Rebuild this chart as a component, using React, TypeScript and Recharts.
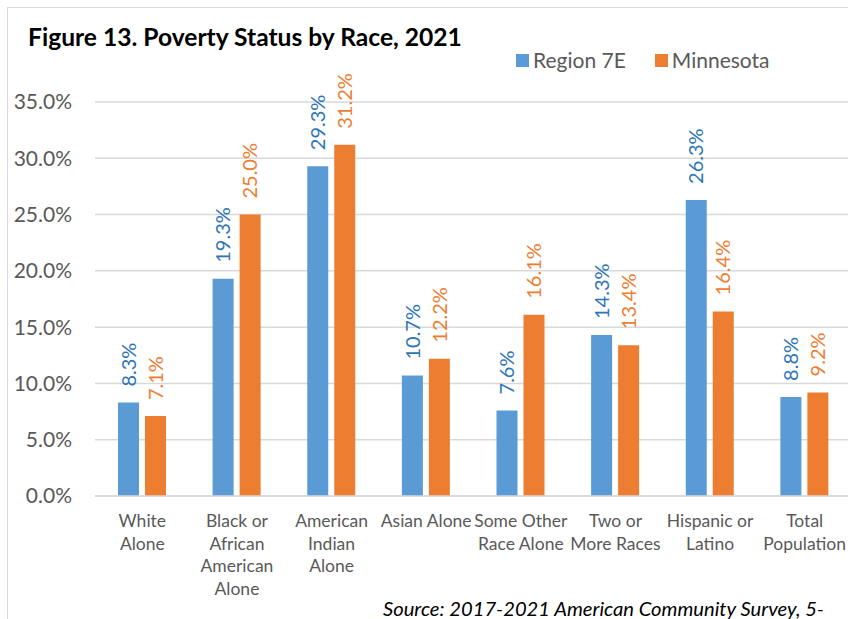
import { BarChart, Bar, XAxis, YAxis, CartesianGrid, LabelList } from "recharts"

const categories = [
  "White Alone",
  "Black or African American Alone",
  "American Indian Alone",
  "Asian Alone",
  "Some Other Race Alone",
  "Two or More Races",
  "Hispanic or Latino",
  "Total Population",
]

// tick labels wrap like the original
const tickLines: string[][] = [
  ["White", "Alone"],
  ["Black or", "African", "American", "Alone"],
  ["American", "Indian", "Alone"],
  ["Asian Alone"],
  ["Some Other", "Race Alone"],
  ["Two or", "More Races"],
  ["Hispanic or", "Latino"],
  ["Total", "Population"],
]

const region7E = [8.3, 19.3, 29.3, 10.7, 7.6, 14.3, 26.3, 8.8]
const minnesota = [7.1, 25.0, 31.2, 12.2, 16.1, 13.4, 16.4, 9.2]

const yTicks = [0, 5, 10, 15, 20, 25, 30, 35]

const data = categories.map((name, i) => ({
  name,
  region: region7E[i],
  mn: minnesota[i],
}))

const FONT = "Lato, sans-serif"
const BLUE = "#5B9BD5"
const ORANGE = "#ED7D31"
const GREY = "#595959"

function XTick(props: any) {
  const { x, y, payload } = props
  const lines = tickLines[payload.index] || [payload.value]
  return (
    <text x={x} y={y + 23} textAnchor="middle" fill={GREY} fontSize={17.5} fontFamily={FONT}>
      {lines.map((l, i) => (
        <tspan key={i} x={x} dy={i === 0 ? 0 : 22.7}>
          {l}
        </tspan>
      ))}
    </text>
  )
}

function makeLabel(color: string) {
  return (props: any) => {
    const { x, y, width, value } = props
    const cx = x + width / 2
    const ty = y - 16
    return (
      <text
        x={cx}
        y={ty}
        transform={`rotate(-90 ${cx} ${ty})`}
        dy="0.36em"
        textAnchor="start"
        fill={color}
        fontSize={20}
        fontFamily={FONT}
      >
        {value.toFixed(1)}%
      </text>
    )
  }
}

function LegendItem({ color, text }: { color: string; text: string }) {
  return (
    <span style={{ display: "inline-flex", alignItems: "center", marginRight: 29 }}>
      <span style={{ width: 13, height: 13, background: color, marginRight: 4 }} />
      <span style={{ color: GREY }}>{text}</span>
    </span>
  )
}

export default function App() {
  return (
    <div
      style={{
        position: "absolute",
        left: 0,
        top: 0,
        width: 848,
        height: 619,
        overflow: "hidden",
        background: "#fff",
        fontFamily: FONT,
      }}
    >
      <div
        style={{
          position: "absolute",
          left: 7,
          top: 7,
          width: 900,
          height: 700,
          border: "1px solid #d9d9d9",
        }}
      />
      <div
        style={{
          position: "absolute",
          left: 28,
          top: 21,
          fontSize: 24.6,
          fontWeight: "bold",
          color: "#000",
          whiteSpace: "nowrap",
          lineHeight: "32px",
        }}
      >
        Figure 13. Poverty Status by Race, 2021
      </div>
      <div
        style={{
          position: "absolute",
          left: 516,
          top: 46,
          fontSize: 21,
          lineHeight: "28px",
          whiteSpace: "nowrap",
          display: "flex",
        }}
      >
        <LegendItem color={BLUE} text="Region 7E" />
        <LegendItem color={ORANGE} text="Minnesota" />
      </div>
      <div style={{ position: "absolute", left: 0, top: 0 }}>
        <BarChart
          width={852}
          height={619}
          data={data}
          margin={{ top: 102, right: 0, bottom: 0, left: 0 }}
          barCategoryGap="24.6%"
          barGap={6}
        >
          <CartesianGrid vertical={false} stroke="#d9d9d9" strokeWidth={1.5} />
          <XAxis
            dataKey="name"
            interval={0}
            tickLine={false}
            axisLine={{ stroke: "#d9d9d9", strokeWidth: 1.5 }}
            height={123}
            tick={<XTick />}
          />
          <YAxis
            domain={[0, 35]}
            ticks={yTicks}
            width={95}
            axisLine={false}
            tickLine={false}
            tickSize={0}
            tickMargin={23}
            tickFormatter={(v: number) => `${v.toFixed(1)}%`}
            tick={{ fill: GREY, fontSize: 21, fontFamily: FONT }}
          />
          <Bar dataKey="region" name="Region 7E" fill={BLUE} barSize={21} isAnimationActive={false}>
            <LabelList dataKey="region" content={makeLabel("#2E75B6")} />
          </Bar>
          <Bar dataKey="mn" name="Minnesota" fill={ORANGE} barSize={21} isAnimationActive={false}>
            <LabelList dataKey="mn" content={makeLabel(ORANGE)} />
          </Bar>
        </BarChart>
      </div>
      <div
        style={{
          position: "absolute",
          left: 383,
          top: 595,
          fontSize: 20.2,
          lineHeight: "26px",
          fontStyle: "italic",
          color: "#000",
          whiteSpace: "nowrap",
        }}
      >
        Source: 2017-2021 American Community Survey, 5-
      </div>
    </div>
  )
}
